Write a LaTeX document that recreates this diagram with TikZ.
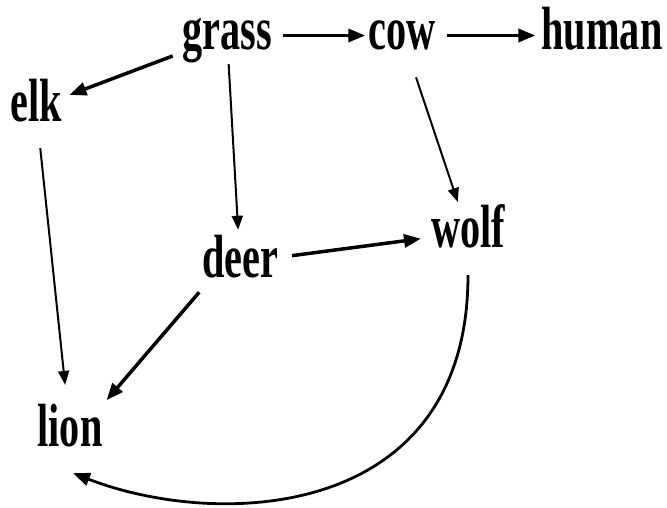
\documentclass[tikz,border=0pt]{standalone}
\usepackage{fontspec}
\newfontfamily\tallfont[FakeStretch=0.66]{Liberation Serif}
\usetikzlibrary{arrows.meta}
\begin{document}
\begin{tikzpicture}[x=1pt,y=-1pt,
  animal/.style={font=\tallfont\bfseries\fontsize{61}{61}\selectfont,
    inner sep=0pt, text height=41pt, text depth=12pt, anchor=base},
  link/.style={-{Triangle[length=17pt,width=13pt]}, line width=3.5pt},
  thinlink/.style={-{Triangle[length=14pt,width=11pt]}, line width=2pt}]
\useasboundingbox (0,0) rectangle (667,508);

\node[animal] (grass) at (227,50) {grass};
\node[animal] (cow) at (402,50) {cow};
\node[animal] (human) at (602,50) {human};
\node[animal] (elk) at (36,122) {elk};
\node[animal] (deer) at (240,277) {deer};
\node[animal] (wolf) at (468,247) {wolf};
\node[animal] (lion) at (70,446) {lion};

\draw[link, shorten <=11pt, shorten >=3pt] (grass.east) -- (cow.west);
\draw[link, shorten <=11pt, shorten >=6pt] (cow.east) -- (human.west);
\draw[link, shorten <=10pt, shorten >=8pt] (grass) -- (elk);
\draw[thinlink, shorten <=2pt, shorten >=6pt] (grass) -- (deer);
\draw[thinlink, shorten <=16pt, shorten >=4pt] (cow) -- (wolf);
\draw[thinlink, shorten <=14pt, shorten >=20pt] (elk) -- (lion);
\draw[link, shorten <=14pt, shorten >=10pt] (deer) -- (wolf);
\draw[link, shorten <=4pt, shorten >=6pt] (deer.south west) -- (lion.north east);

\draw[link, line width=2.8pt] ([yshift=-16pt]wolf.south)
  .. controls (468,520) and (220,530) .. ([shift={(3pt,-15pt)}]lion.south);
\end{tikzpicture}
\end{document}
